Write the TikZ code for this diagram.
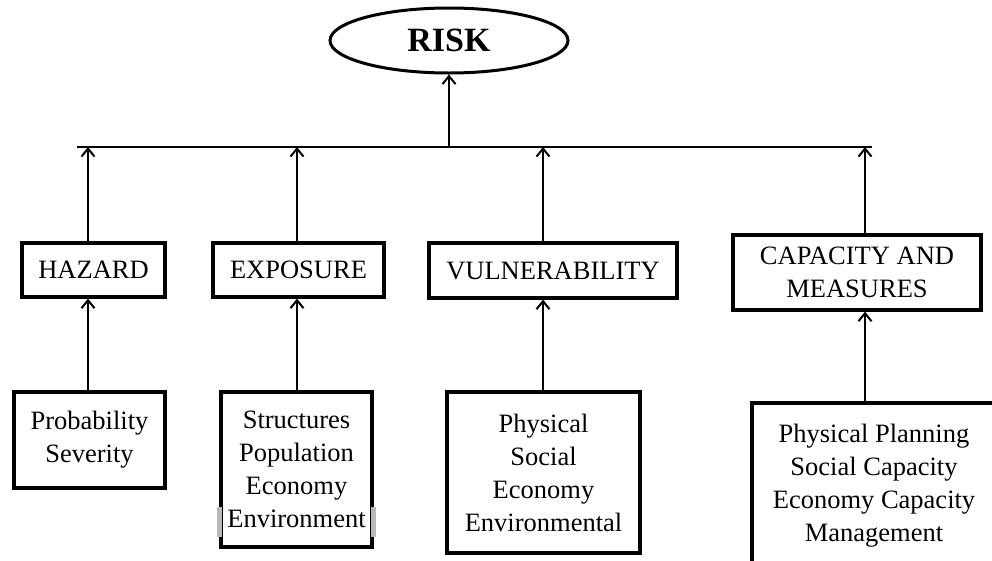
\documentclass[tikz,border=0pt]{standalone}
\usepackage{fontspec}
\setmainfont{Liberation Serif}
\usetikzlibrary{shapes.geometric,arrows.meta}
\tikzset{
  boxnode/.style={draw=black,line width=3.2pt,rectangle,inner sep=0pt,align=center,
    font=\fontsize{26.5}{33}\selectfont},
  arr/.style={line width=2pt,-{Straight Barb[length=8pt,width=13pt,line width=2pt]}},
  barline/.style={line width=2.4pt}
}
\begin{document}
\begin{tikzpicture}[x=1pt,y=-1pt]
\useasboundingbox (0,0) rectangle (992,560);
\clip (0,0) rectangle (992,560);
\fill[white] (0,0) rectangle (992,560);
% top
\node[draw=black,line width=3pt,ellipse,minimum width=238pt,minimum height=65pt,inner sep=0pt,
  font=\fontsize{34}{40}\selectfont\bfseries] (risk) at (449,40.5) {RISK};
% bar coordinates
\coordinate (barL) at (77,147);
\coordinate (barR) at (872,147);
\coordinate (c1) at (88,0);
\coordinate (c2) at (297,0);
\coordinate (c3) at (543,0);
\coordinate (c4) at (865,0);
% level 2
\node[boxnode,minimum width=143pt,minimum height=54pt] (hazard) at (93.5,270) {HAZARD};
\node[boxnode,minimum width=171pt,minimum height=54pt] (exposure) at (298.5,270) {EXPOSURE};
\node[boxnode,minimum width=248pt,minimum height=55pt] (vuln) at (553,270.5) {VULNERABILITY};
\node[boxnode,minimum width=248pt,minimum height=75pt] (cap) at (857,272.5) {CAPACITY AND\\MEASURES};
% level 3
\node[boxnode,minimum width=151pt,minimum height=96pt] (prob) at (89.5,440) {Probability\\Severity};
\node[boxnode,minimum width=151pt,minimum height=155pt] (struct) at (296.5,469.5) {Structures\\Population\\Economy\\Environment};
\node[boxnode,minimum width=193pt,minimum height=161pt] (phys) at (543.5,472.5) {Physical\\Social\\Economy\\Environmental};
\node[boxnode,minimum width=244pt,minimum height=166pt] (plan) at (874,486) {Physical Planning\\Social Capacity\\Economy Capacity\\Management};
% scan marks on the Structures box
\fill[gray!55] ([xshift=-2.5pt]struct.west |- 0,507) rectangle ([xshift=2.5pt]struct.west |- 0,537);
\fill[gray!55] ([xshift=-2.5pt]struct.east |- 0,507) rectangle ([xshift=2.5pt]struct.east |- 0,537);
% bar
\draw[barline] (barL) -- (barR);
% arrows
\draw[arr] (risk.south |- barL) -- (risk.south);
\draw[arr] (hazard.north -| c1) -- (c1 |- barL);
\draw[arr] (exposure.north -| c2) -- (c2 |- barL);
\draw[arr] (vuln.north -| c3) -- (c3 |- barL);
\draw[arr] (cap.north -| c4) -- (c4 |- barL);
\draw[arr] (prob.north -| c1) -- (hazard.south -| c1);
\draw[arr] (struct.north -| c2) -- (exposure.south -| c2);
\draw[arr] (phys.north -| c3) -- (vuln.south -| c3);
\draw[arr] (plan.north -| c4) -- (cap.south -| c4);
\end{tikzpicture}
\end{document}
